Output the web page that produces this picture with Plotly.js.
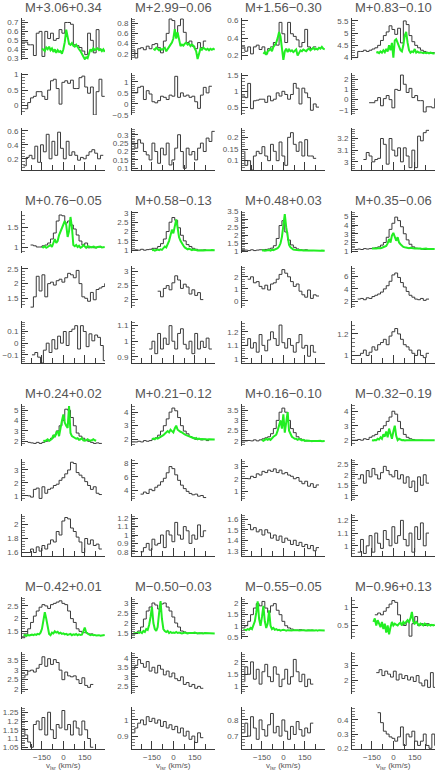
<!DOCTYPE html>
<html>
<head>
<meta charset="utf-8">
<script src="https://cdn.plot.ly/plotly-3.0.1.min.js"></script>
<style>
  html, body { margin: 0; padding: 0; background: #fff; }
  #graph { width: 436px; height: 772px; }
</style>
</head>
<body>
<div id="graph"></div>
<script>
// field names, one per group of three spectra
const titles = [
  'M+3.06+0.34', 'M+2.99\u22120.06', 'M+1.56\u22120.30', 'M+0.83\u22120.10',
  'M+0.76\u22120.05', 'M+0.58\u22120.13', 'M+0.48+0.03', 'M+0.35\u22120.06',
  'M+0.24+0.02', 'M+0.21\u22120.12', 'M+0.16\u22120.10', 'M\u22120.32\u22120.19',
  'M\u22120.42+0.01', 'M\u22120.50\u22120.03', 'M\u22120.55\u22120.05', 'M\u22120.96+0.13'
];

// first channel velocity (km/s) of each binned spectrum, 20 km/s channels
const topStart = [-290, -290, -290, -290, -230, -290, -290, -290, -250, -290, -290, -290, -290, -290, -290, -130];
const midStart = [-270, -290, -290, -170, -230, -110, -250, -250, -250, -230, -250, -250, -290, -290, -290, -120];
const botStart = [-280, -290, -290, -210, -220, -170, -270, -250, -250, -230, -250, -250, -290, -290, -290, -110];

const topBlack = [
  [0.48,0.48,0.45,0.45,0.33,0.58,0.60,0.32,0.60,0.52,0.58,0.50,0.52,0.62,0.58,0.70,0.70,0.68,0.45,0.44,0.42,0.38,0.34,0.58,0.50,0.36,0.62,0.40],
  [0.28,0.12,0.30,0.32,0.28,0.35,0.30,0.38,0.40,0.32,0.22,0.45,0.60,0.88,0.85,0.60,0.75,0.88,0.62,0.42,0.45,0.35,0.30,0.42,0.32,0.45],
  [0.30,0.25,0.30,0.22,0.30,0.32,0.27,0.30,0.22,0.28,0.30,0.35,0.32,0.58,0.45,0.35,0.58,0.45,0.42,0.38,0.30,0.35,0.50,0.30,0.28,0.30],
  [4.0,4.0,4.25,4.25,4.3,4.25,4.3,4.35,4.4,4.5,4.7,4.9,5.05,5.3,5.15,4.95,5.2,4.6,5.5,5.35,4.9,4.65,4.5,4.4,4.3,4.25,4.2,4.2,4.2],
  [1.05,1.03,1.0,1.0,1.03,1.05,1.1,1.2,1.35,1.65,1.8,1.78,1.6,1.65,1.55,1.45,1.3,1.15,1.05,1.1,0.98,1.0,0.98,1.0,1.0],
  [1.0,1.02,1.0,1.05,1.0,1.03,1.05,1.1,1.1,1.2,1.35,1.6,2.0,2.5,2.75,2.6,2.2,1.8,1.5,1.3,1.2,1.1,1.05,1.0,1.0,1.02],
  [1.05,1.08,1.05,1.1,1.05,1.08,1.1,1.1,1.12,1.15,1.2,1.35,1.8,2.6,2.9,2.2,1.7,1.4,1.25,1.15,1.1,1.08,1.1,1.05,1.05],
  [1.2,1.2,1.25,1.2,1.3,1.25,1.3,1.35,1.4,1.5,1.7,2.0,2.6,3.5,4.2,4.9,4.5,3.8,3.0,2.3,1.8,1.5,1.35,1.3,1.25,1.2,1.2],
  [1.9,1.85,1.8,1.9,1.8,1.9,2.0,2.1,2.3,2.6,3.0,3.5,4.0,5.1,5.0,4.3,3.5,2.8,2.5,2.3,2.1,2.0,1.9,1.8,1.85,1.8],
  [1.8,1.8,1.85,1.8,1.9,1.85,1.9,2.0,2.1,2.3,2.6,3.0,3.5,4.0,4.3,4.1,3.6,3.0,2.6,2.4,2.2,2.1,2.0,2.0,1.95,2.0,1.9],
  [2.0,2.0,2.02,2.0,2.05,2.0,2.05,2.1,2.15,2.2,2.35,2.6,3.0,3.4,3.6,3.4,3.0,2.6,2.4,2.2,2.1,2.05,2.0,2.0,2.0],
  [2.0,2.0,2.05,2.0,2.1,2.05,2.2,2.3,2.4,2.6,2.8,3.0,3.3,3.6,4.0,3.8,3.3,2.8,2.4,2.2,2.1,2.05,2.0,2.0,2.0],
  [1.25,1.4,1.6,1.85,2.1,2.3,2.45,2.55,2.5,2.4,2.55,2.6,2.65,2.7,2.6,2.55,2.3,2.0,1.85,1.6,1.5,1.45,1.45,1.4,1.4],
  [1.45,1.5,1.6,1.8,2.2,2.6,2.8,3.0,2.9,2.7,2.95,3.0,2.8,2.6,2.3,2.0,1.8,1.6,1.55,1.5,1.5,1.48,1.5,1.47,1.5],
  [0.9,1.0,1.2,1.5,1.8,2.0,1.9,2.1,1.8,1.6,1.9,2.0,1.7,1.5,1.2,1.0,0.9,0.85,0.8,0.8,0.82,0.8,0.78,0.8,0.8],
  [0.8,0.85,0.8,0.9,1.0,1.1,1.2,1.15,0.8,0.55,0.5,0.6,0.2,0.55,0.75,0.5,0.55,0.5,0.55,0.52,0.5]
];

const midBlack = [
  [-0.1,0.1,0.25,0.3,0.45,0.45,0.3,0.2,0.5,0.8,0.85,0.55,0.05,0.75,0.8,0.72,0.82,0.55,0.55,0.9,0.95,0.6,0.4,0.6,-0.3,0.45,0.85,0.3],
  [0.5,0.5,0.75,0.8,0.2,0.6,0.45,0.1,0.05,0.15,0.35,0.3,0.2,0.4,0.35,1.25,0.3,0.5,0.35,0.4,0.3,0.35,0.1,-0.2,0.4,0.75,0.5,0.8],
  [0.85,0.8,1.25,0.45,0.7,0.72,0.75,0.75,0.65,0.85,0.7,0.75,0.95,0.85,1.0,0.9,0.75,0.9,1.25,1.1,0.6,1.1,0.95,0.8,0.4,0.6,0.5],
  [-0.3,-0.3,-0.1,0.2,-0.6,0.1,0.4,0.0,-0.8,1.0,0.9,2.4,1.5,0.7,1.1,0.2,0.4,-0.1,-0.1,-1.2,-0.7,-0.7,-0.8,0.1],
  [1.2,1.55,2.25,1.75,2.3,1.55,2.0,2.05,1.95,2.1,2.15,2.05,2.2,2.35,2.3,2.2,2.45,2.0,1.55,1.5,1.4,1.7,1.45,1.8,1.85,1.9,2.0],
  [2.3,2.1,2.4,2.5,2.35,2.6,2.85,2.7,2.4,2.55,2.45,2.2,2.35,2.15,2.25,2.0],
  [1.8,2.0,1.5,1.6,1.2,1.0,1.3,0.9,1.4,1.5,1.8,2.2,2.6,2.3,2.0,1.6,1.2,1.4,0.8,0.5,0.3,0.9,0.2,0.5,0.4],
  [2.4,2.5,2.3,2.6,2.5,2.8,3.0,3.2,3.5,4.0,4.5,5.2,6.2,6.5,5.8,5.0,4.3,3.6,3.0,2.7,2.4,2.3,2.5,2.2,2.4],
  [1.0,0.9,1.5,1.6,0.8,1.7,1.2,1.5,1.6,1.8,1.9,2.2,2.4,2.7,3.0,3.6,3.5,2.8,2.6,2.4,2.1,1.8,1.5,1.7,1.2,1.1],
  [3.5,3.8,3.6,4.2,4.0,4.5,4.8,5.3,5.8,6.6,7.5,7.2,6.3,5.5,4.8,4.3,3.9,3.6,3.4,3.5,3.2,3.3,3.0],
  [2.0,2.2,2.1,2.4,2.3,2.6,2.5,2.7,2.6,2.8,2.5,2.7,2.4,2.5,2.3,2.2,2.0,2.1,1.8,1.6,1.8,1.4,1.6,1.3,1.5],
  [1.8,2.0,1.6,2.2,1.9,2.3,2.0,1.8,2.1,2.4,2.2,2.0,1.9,2.2,1.8,2.0,1.6,1.9,1.4,1.7,1.2,1.9,1.5,2.0,1.6],
  [2.6,2.75,2.95,3.0,2.9,3.1,3.3,3.7,3.2,3.6,3.3,3.55,3.4,3.0,2.5,2.9,2.7,2.65,2.7,2.5,2.3,2.6,2.2,2.1,2.25],
  [3.4,3.6,3.9,3.7,3.5,3.8,3.3,3.5,3.2,3.6,3.4,3.1,3.3,3.0,3.2,2.9,2.8,3.0,2.6,2.7,2.5,2.6,2.4,2.5,2.4],
  [1.2,1.8,1.5,2.0,1.3,1.7,1.1,1.6,1.9,1.4,1.2,1.8,1.5,1.0,1.3,1.7,1.1,1.4,2.1,1.6,1.2,1.5,1.0,1.3,1.1],
  [2.5,2.7,2.3,2.6,2.4,2.2,2.6,2.0,2.4,2.1,2.3,2.0,2.2,1.9,2.3,1.8,1.6,2.0,1.5,2.5,1.5,2.7]
];

const botBlack = [
  [0.1,0.22,0.25,0.2,0.38,0.15,0.4,0.3,0.55,0.2,0.45,0.25,0.58,0.35,0.2,0.45,0.25,0.3,0.25,0.18,0.22,0.2,0.25,0.3,0.33,0.28,0.2,0.25],
  [0.25,0.22,0.27,0.25,0.2,0.18,0.15,0.25,0.2,0.13,0.22,0.18,0.25,0.12,0.15,0.22,0.3,0.2,0.1,0.22,0.18,0.2,0.15,0.22,0.25,0.2,0.28,0.26,0.32],
  [0.14,0.08,0.1,0.06,0.12,0.14,0.13,0.16,0.12,0.1,0.17,0.14,0.1,0.18,0.12,0.08,0.2,0.22,0.17,0.14,0.18,0.12,0.19,0.12,0.12,0.11],
  [3.02,3.08,3.05,3.0,3.02,3.03,3.2,3.15,2.98,3.2,3.1,3.05,3.12,3.0,3.12,3.05,2.95,3.1,2.95,3.22,3.18,3.25,3.27],
  [-0.1,-0.08,-0.12,-0.17,-0.06,0.0,-0.08,0.03,-0.05,0.06,0.0,0.1,-0.02,0.1,0.12,0.15,-0.05,0.15,0.1,-0.03,0.08,0.02,0.07,0.05,-0.02,-0.15],
  [0.95,1.0,0.92,1.05,0.95,1.02,0.98,1.1,1.0,0.95,1.05,1.08,0.98,0.95,1.0,0.92,1.05,0.95,1.0,0.96,1.02,0.95],
  [1.1,1.15,1.08,1.12,1.05,1.18,1.1,1.06,1.14,1.2,1.15,1.1,1.25,1.12,1.08,1.15,1.1,1.05,1.12,1.18,1.08,1.1,1.02,1.1,1.05],
  [1.0,1.02,1.05,1.0,1.03,1.08,1.05,1.1,1.12,1.15,1.1,1.18,1.22,1.25,1.2,1.15,1.1,1.08,1.05,1.02,1.0,1.05,1.0,0.98,1.02],
  [1.6,1.65,1.6,1.68,1.62,1.7,1.65,1.72,1.78,1.75,1.9,1.85,2.05,2.1,2.08,1.95,1.9,1.82,1.75,1.6,1.8,1.72,1.78,1.7,1.72,1.65],
  [0.8,0.85,0.9,0.82,0.95,0.88,0.9,1.0,0.85,1.05,1.0,0.92,1.15,1.0,0.95,1.1,1.05,0.9,1.0,0.95,1.12,0.98,1.05],
  [1.55,1.5,1.52,1.48,1.5,1.45,1.5,1.47,1.42,1.45,1.4,1.44,1.38,1.42,1.4,1.36,1.4,1.35,1.38,1.34,1.36,1.32,1.35,1.3,1.33],
  [0.95,1.05,0.94,1.0,1.08,0.95,1.1,1.02,0.98,1.12,1.05,1.0,1.15,1.02,1.08,1.2,1.05,1.0,1.1,0.95,1.15,1.05,1.18,1.0,1.1],
  [1.15,1.12,1.08,1.05,1.18,1.2,1.15,1.22,1.12,1.25,1.15,1.1,1.18,1.16,1.26,1.15,1.18,1.12,1.2,1.16,1.12,1.2,1.15,1.1,1.05],
  [0.92,0.95,0.98,1.0,0.97,1.02,0.99,1.01,0.98,1.0,0.96,0.99,0.95,0.97,0.94,0.96,0.92,0.95,0.9,0.93,0.88,0.9,0.86,0.92,0.89],
  [0.72,0.78,0.7,0.82,0.75,0.68,0.8,0.74,0.7,0.77,0.84,0.72,0.76,0.7,0.8,0.73,0.68,0.76,0.71,0.79,0.74,0.7,0.75,0.72,0.78],
  [0.45,0.38,0.32,0.3,0.28,0.27,0.25,0.28,0.35,0.22,0.3,0.28,0.32,0.25,0.22,0.25,0.3,0.22,0.2,0.3,0.22]
];

// high resolution line (green), 10 km/s sampling from greenStart
const greenStart = [-150, -140, -140, -120, -150, -150, -150, -150, -140, -150, -150, -150, -280, -280, -280, -140];
const green = [
  [0.41,0.40,0.38,0.42,0.40,0.43,0.39,0.41,0.37,0.40,0.36,0.39,0.37,0.38,0.35,0.40,0.48,0.62,0.55,0.46,0.45,0.47,0.44,0.43,0.45,0.42,0.40,0.38,0.34,0.32,0.29,0.31,0.30,0.36,0.40,0.38,0.41,0.39,0.40,0.41,0.39,0.40,0.38,0.40,0.37],
  [0.30,0.28,0.32,0.30,0.27,0.30,0.28,0.30,0.32,0.25,0.30,0.35,0.38,0.42,0.50,0.68,0.50,0.62,0.45,0.35,0.38,0.36,0.40,0.42,0.38,0.40,0.35,0.38,0.36,0.30,0.25,0.10,0.18,0.30,0.28,0.32,0.30,0.28,0.30,0.27,0.30,0.28,0.30,0.28],
  [0.22,0.24,0.21,0.25,0.26,0.28,0.25,0.30,0.32,0.35,0.40,0.47,0.42,0.30,0.15,0.25,0.28,0.24,0.27,0.25,0.26,0.24,0.25,0.27,0.20,0.24,0.26,0.25,0.27,0.26,0.25,0.27,0.28,0.26,0.27,0.29,0.27,0.28,0.27,0.29,0.28,0.30,0.28,0.27],
  [4.2,4.22,4.18,4.25,4.2,4.3,4.22,4.35,4.25,4.5,4.3,4.6,4.0,4.7,4.75,4.6,4.45,4.3,4.25,4.5,4.9,5.05,4.6,4.3,4.2,4.25,4.22,4.35,4.2,4.25,4.2,4.22,4.2,4.18,4.2,4.18,4.2,4.17,4.2,4.18,4.17,4.18],
  [1.0,0.99,1.02,0.98,1.0,1.03,1.05,1.0,1.08,1.2,1.1,1.15,1.3,1.4,1.5,1.6,1.65,1.55,1.25,1.4,1.75,1.5,1.05,1.02,1.05,1.0,1.03,0.98,1.0,1.05,1.0,0.98,1.02,1.0,1.0,0.99,1.01,1.0,0.98,1.0,1.0,1.01,0.99,1.0,1.0],
  [1.0,1.02,0.98,1.0,1.03,1.0,1.05,1.02,1.1,1.2,1.15,1.3,1.5,1.8,2.1,1.9,2.3,2.65,2.2,1.7,1.5,1.35,1.25,1.15,1.1,1.05,1.08,1.02,1.0,1.03,1.0,1.01,0.99,1.0,1.02,1.0,0.99,1.01,1.0,1.0,0.98,1.0,1.01,1.0,1.0],
  [1.05,1.07,1.04,1.06,1.05,1.08,1.05,1.1,1.08,1.12,1.15,1.2,1.3,1.5,1.9,2.6,3.3,2.5,1.8,1.4,1.25,1.15,1.12,1.1,1.08,1.1,1.07,1.08,1.05,1.06,1.05,1.07,1.05,1.06,1.04,1.05,1.06,1.05,1.04,1.05,1.06,1.04,1.05,1.05,1.04],
  [1.3,1.28,1.32,1.3,1.35,1.3,1.33,1.4,1.45,1.5,1.6,1.9,2.4,2.0,2.8,3.1,2.5,2.2,2.6,2.0,1.8,1.6,1.5,1.45,1.4,1.38,1.35,1.4,1.33,1.35,1.3,1.32,1.3,1.28,1.3,1.27,1.3,1.28,1.3,1.27,1.28,1.3,1.27,1.28,1.27],
  [2.1,2.0,2.1,2.2,2.05,2.15,2.25,2.6,2.4,2.8,3.0,2.5,3.5,4.0,4.6,3.8,3.5,3.3,5.4,2.8,2.5,2.4,2.3,2.25,2.3,2.15,2.2,2.3,2.1,2.05,2.1,2.2,2.1,2.05,2.1,2.2,2.1,2.05],
  [2.0,2.05,2.0,2.1,2.05,2.1,2.15,2.2,2.3,2.4,2.5,2.6,2.5,2.7,2.6,2.5,2.8,3.0,2.7,2.6,2.55,2.5,2.4,2.35,2.3,2.25,2.2,2.15,2.1,2.1,2.05,2.1,2.0,2.05,2.0,2.02,2.0,2.01,2.0,1.98,2.0,1.99,2.0,2.0,1.98],
  [2.05,2.0,2.05,2.1,2.05,2.1,2.05,2.15,2.2,2.25,2.3,2.5,2.8,3.0,2.6,3.3,2.4,2.9,3.4,2.5,2.3,2.2,2.15,2.1,2.1,2.05,2.1,2.05,2.02,2.05,2.0,2.02,2.0,2.01,2.0,1.98,2.0,2.01,2.0,1.99,2.0,2.0,1.98,2.0,1.99],
  [2.0,1.98,2.02,2.0,2.1,2.05,2.2,2.1,2.4,2.25,2.6,2.2,2.8,2.4,2.1,2.6,3.0,2.3,2.0,2.1,2.05,2.0,2.02,1.98,2.0,2.0,1.98,2.0,2.01,2.0,1.99,2.0,2.0,1.98,2.0,2.01,2.0,1.99,2.0,2.0,1.98,2.0,2.0,1.99,2.0],
  [1.33,1.35,1.32,1.36,1.34,1.35,1.37,1.35,1.38,1.36,1.4,1.38,1.45,1.6,1.9,2.25,2.0,1.6,1.4,1.35,1.45,1.42,1.5,1.45,1.48,1.42,1.45,1.4,1.42,1.38,1.4,1.36,1.38,1.4,1.35,1.38,1.36,1.4,1.35,1.38,1.36,1.37,1.5,1.65,1.45,1.4,1.38,1.35,1.37,1.35,1.36,1.34,1.36,1.35,1.33,1.35,1.34,1.36],
  [1.5,1.48,1.5,1.52,1.5,1.55,1.5,1.6,1.55,1.7,1.65,1.9,2.3,2.8,2.0,1.7,1.6,1.8,2.5,3.1,2.2,1.7,1.6,1.55,1.6,1.5,1.55,1.5,1.52,1.5,1.55,1.5,1.52,1.5,1.48,1.5,1.52,1.5,1.48,1.5,1.5,1.48,1.5,1.52,1.5,1.48,1.5,1.49,1.5,1.48,1.5,1.5,1.49,1.48,1.5,1.49,1.5,1.48],
  [0.8,0.82,0.8,0.85,0.82,0.9,0.85,1.0,1.2,1.6,2.1,1.3,1.0,1.4,1.9,1.2,0.9,1.1,1.7,1.0,0.85,0.9,0.82,0.85,0.8,0.82,0.78,0.8,0.82,0.8,0.78,0.8,0.79,0.8,0.78,0.8,0.81,0.79,0.8,0.78,0.8,0.79,0.8,0.78,0.79,0.8,0.78,0.79,0.8,0.78,0.79,0.8,0.78,0.8,0.79,0.78,0.8,0.79],
  [0.6,0.7,0.5,0.65,0.55,0.45,0.6,0.4,0.55,0.3,0.5,0.25,0.45,0.6,0.5,0.55,0.52,0.5,0.55,0.58,0.5,0.6,0.55,0.62,0.65,0.6,0.7,0.88,0.6,0.55,0.6,0.55,0.5,0.55,0.52,0.5,0.55,0.52,0.5,0.53,0.5,0.52,0.5,0.52]
];

// y axis [min, max, major step, minor step] for each panel
const topAxis = [
  [0.28,0.75,0.1,0.02], [0.08,0.9,0.2,0.04], [0.15,0.63,0.2,0.04], [3.9,5.62,0.5,0.1],
  [0.85,1.9,0.5,0.1], [0.85,3.1,0.5,0.1], [0.9,3.5,0.5,0.1], [0.8,5.6,1,0.2],
  [1.55,5.6,1,0.2], [1.5,4.6,1,0.2], [1.75,3.8,0.5,0.1], [1.6,4.5,1,0.2],
  [1.2,2.85,0.5,0.1], [1.2,3.3,0.5,0.1], [0.4,2.3,0.5,0.1], [0.12,1.3,0.5,0.1]
];
const midAxis = [
  [-0.3,1.05,0.5,0.1], [-0.5,1.4,0.5,0.1], [0.25,1.58,0.5,0.1], [-1.5,2.6,1,0.2],
  [1.17,2.6,0.5,0.1], [1.7,3.2,0.5,0.1], [-0.6,2.9,1,0.2], [1.0,7.6,2,0.4],
  [0.6,3.85,1,0.2], [2.5,8.6,2,0.4], [0.2,3.6,1,0.2], [0.75,2.75,0.5,0.1],
  [1.75,3.95,0.5,0.1], [2.1,4.3,0.5,0.1], [0.7,2.4,0.5,0.1], [1.05,3.9,1,0.2]
];
const botAxis = [
  [0.04,0.64,0.2,0.04], [0.09,0.34,0.05,0.01], [0.06,0.24,0.05,0.01], [2.93,3.29,0.1,0.02],
  [-0.17,0.19,0.1,0.02], [0.86,1.13,0.1,0.02], [0.97,1.28,0.1,0.02], [0.93,1.32,0.2,0.04],
  [1.55,2.15,0.2,0.04], [0.75,1.25,0.1,0.02], [1.25,1.65,0.1,0.02], [0.92,1.25,0.1,0.02],
  [1.04,1.28,0.05,0.01], [0.82,1.08,0.1,0.02], [0.62,0.88,0.1,0.02], [0.195,0.49,0.1,0.02]
];

const W = 436, H = 772;
const colLeft = [22, 132, 242, 352];
const plotW = 83;
const vRange = [-290, 292];
const lineCol = '#3a3a3a';
const textCol = '#555';
const fontFam = 'Liberation Sans, Arial, sans-serif';

function steps(start, vals) {
  const x = vals.map((v, i) => start + i * 20);
  x.push(start + vals.length * 20);
  return { x: x, y: vals.concat([vals[vals.length - 1]]) };
}

const traces = [];
const layout = {
  width: W, height: H,
  margin: { l: 0, r: 0, t: 0, b: 0 },
  paper_bgcolor: '#fff', plot_bgcolor: '#fff',
  showlegend: false,
  annotations: []
};

for (let g = 0; g < 16; g++) {
  const r = Math.floor(g / 4), c = g % 4;
  const x0 = colLeft[c];
  const specs = [topAxis[g], midAxis[g], botAxis[g]];
  const series = [
    steps(topStart[g], topBlack[g]),
    steps(midStart[g], midBlack[g]),
    steps(botStart[g], botBlack[g])
  ];

  layout.annotations.push({
    text: titles[g], xref: 'paper', yref: 'paper',
    x: (x0 + plotW / 2) / W, y: 1 - (7 + 193 * r) / H,
    xanchor: 'center', yanchor: 'middle', showarrow: false,
    font: { family: fontFam, size: 13, color: textCol }
  });

  if (r === 3) {
    // velocity axis label below the last row
    layout.annotations.push({
      text: 'v<sub>lsr</sub> (km/s)', xref: 'paper', yref: 'paper',
      x: (x0 + plotW / 2) / W, y: 0, borderpad: 0,
      xanchor: 'center', yanchor: 'bottom', showarrow: false,
      font: { family: fontFam, size: 8, color: textCol }
    });
  }

  for (let p = 0; p < 3; p++) {
    const n = g * 3 + p + 1;
    const top = 18 + 193 * r + 55 * p;
    const bot = top + 42;
    const s = specs[p];

    layout['xaxis' + n] = {
      domain: [x0 / W, Math.min(1, (x0 + plotW) / W)],
      range: vRange, anchor: 'y' + n,
      visible: p === 2,
      showline: true, linecolor: lineCol, linewidth: 1,
      ticks: 'inside', ticklen: 8, tickcolor: lineCol, tickwidth: 1,
      tick0: 0, dtick: 150,
      minor: { ticks: 'inside', ticklen: 5, dtick: 75, tickcolor: lineCol },
      showticklabels: r === 3,
      tickfont: { family: fontFam, size: 8, color: textCol },
      ticklabelstandoff: 0,
      showgrid: false, zeroline: false, fixedrange: true
    };
    layout['yaxis' + n] = {
      domain: [1 - bot / H, 1 - top / H],
      range: [s[0], s[1]], anchor: 'x' + n,
      showline: true, linecolor: lineCol, linewidth: 1,
      ticks: 'inside', ticklen: 6, tickcolor: lineCol, tickwidth: 1,
      tick0: 0, dtick: s[2],
      minor: { ticks: 'inside', ticklen: 3, dtick: s[3], tickcolor: '#777' },
      tickfont: { family: fontFam, size: 8, color: textCol },
      ticklabelstandoff: 1,
      showgrid: false, zeroline: false, fixedrange: true
    };

    traces.push({
      x: series[p].x, y: series[p].y, xaxis: 'x' + n, yaxis: 'y' + n,
      type: 'scatter', mode: 'lines', line: { shape: 'hv', color: lineCol, width: 1 },
      hoverinfo: 'skip'
    });

    if (p === 0) {
      traces.push({
        x: green[g].map((v, i) => greenStart[g] + i * 10), y: green[g],
        xaxis: 'x' + n, yaxis: 'y' + n,
        type: 'scatter', mode: 'lines', line: { color: '#22ee22', width: 2 },
        hoverinfo: 'skip'
      });
    }
  }
}

Plotly.newPlot('graph', traces, layout, { staticPlot: true, displayModeBar: false });
</script>
</body>
</html>
